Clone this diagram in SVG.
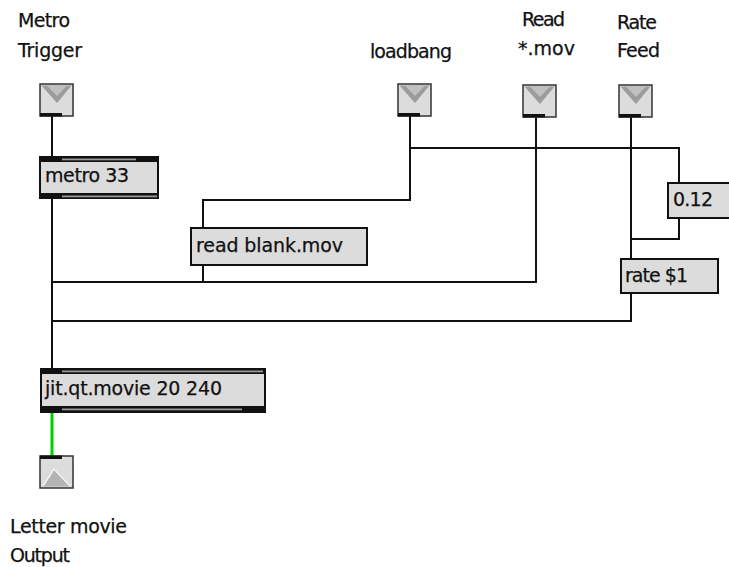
<svg xmlns="http://www.w3.org/2000/svg" width="729" height="567" viewBox="0 0 729 567">
<style>
  .lbl { font-family: "DejaVu Sans", Verdana, sans-serif; font-size: 19px; fill: #111; stroke: #111; stroke-width: 0.25; }
  .box { fill: #dcdcdc; stroke: #111; stroke-width: 2; }
  .band { fill: #111; }
  .stripe { fill: #9a9a9a; }
  .wire { fill: none; stroke: #111; stroke-width: 2; }
  .green { fill: none; stroke: #00d000; stroke-width: 3; }
</style>
<defs>
  <g id="inlet">
    <rect x="0" y="0" width="33" height="32" fill="#dcdcdc" stroke="#333" stroke-width="1.5"/>
    <polygon points="1.5,1.5 31.5,1.5 17,19" fill="#9c9c9c"/>
    <polygon points="7,1.5 27,1.5 17,12" fill="#c0c0c0"/>
    <rect x="0" y="29" width="22" height="3.5" fill="#111"/>
  </g>
  <g id="outlet">
    <rect x="0" y="0" width="33" height="32" fill="#dcdcdc" stroke="#333" stroke-width="1.5"/>
    <polygon points="2,30.5 31,30.5 14,12" fill="#b4b4b4"/>
    <polyline points="3,30 14,13 30,30" fill="none" stroke="#f4f4f4" stroke-width="1.5"/>
    <rect x="0" y="-0.5" width="22" height="3.5" fill="#111"/>
  </g>
</defs>

<g id="labels">
  <text class="lbl" x="18" y="27" textLength="52">Metro</text>
  <text class="lbl" x="18" y="57" textLength="64">Trigger</text>
  <text class="lbl" x="370" y="58" textLength="82">loadbang</text>
  <text class="lbl" x="522" y="26" textLength="43">Read</text>
  <text class="lbl" x="518" y="55" textLength="57">*.mov</text>
  <text class="lbl" x="617" y="28.5" textLength="40">Rate</text>
  <text class="lbl" x="617" y="57" textLength="43">Feed</text>
  <text class="lbl" x="10" y="533" textLength="117">Letter movie</text>
  <text class="lbl" x="10" y="562" textLength="60">Output</text>
</g>

<g id="connectors">
  <line class="wire" x1="52" y1="116" x2="52" y2="156"/>
  <line class="wire" x1="52" y1="198" x2="52" y2="368"/>
  <polyline class="wire" points="410,116 410,200 203,200 203,227"/>
  <polyline class="wire" points="410,148 679,148 679,182"/>
  <polyline class="wire" points="679,218 679,239 631,239"/>
  <line class="wire" x1="631" y1="116" x2="631" y2="258"/>
  <polyline class="wire" points="536,116 536,282 52,282"/>
  <line class="wire" x1="203" y1="265" x2="203" y2="282"/>
  <polyline class="wire" points="631,293 631,321 52,321"/>
  <line class="green" x1="52" y1="412" x2="52" y2="456"/>
</g>

<g id="in-metro"><use href="#inlet" x="40" y="84"/></g>
<g id="in-loadbang"><use href="#inlet" x="398" y="84"/></g>
<g id="in-read"><use href="#inlet" x="523" y="85"/></g>
<g id="in-rate"><use href="#inlet" x="619" y="85"/></g>

<g id="metro">
  <rect class="box" x="40" y="157" width="118" height="41"/>
  <rect class="band" x="39" y="156" width="120" height="6"/>
  <rect class="stripe" x="62" y="158.5" width="74" height="1.8"/>
  <rect class="band" x="39" y="193" width="120" height="6"/>
  <rect class="stripe" x="62" y="195.5" width="95" height="1.8"/>
  <text class="lbl" x="45" y="182" textLength="84">metro 33</text>
</g>

<g id="readblank">
  <rect class="box" x="191" y="228" width="176" height="37"/>
  <text class="lbl" x="196" y="252" textLength="147">read blank.mov</text>
</g>

<g id="num012">
  <rect class="box" x="668" y="183" width="70" height="35"/>
  <text class="lbl" x="673" y="206" textLength="40">0.12</text>
</g>

<g id="rate">
  <rect class="box" x="621" y="259" width="97" height="34"/>
  <text class="lbl" x="625" y="282" textLength="63">rate $1</text>
</g>

<g id="jitqtmovie">
  <rect class="box" x="41" y="369" width="224" height="43"/>
  <rect class="band" x="40" y="368" width="226" height="6"/>
  <rect class="stripe" x="62" y="370.5" width="201" height="1.8"/>
  <rect class="band" x="40" y="406" width="226" height="6"/>
  <rect class="stripe" x="62" y="408.5" width="180" height="1.8"/>
  <text class="lbl" x="45" y="395" textLength="177">jit.qt.movie 20 240</text>
</g>

<g id="out-letter"><use href="#outlet" x="40" y="456"/></g>
</svg>
